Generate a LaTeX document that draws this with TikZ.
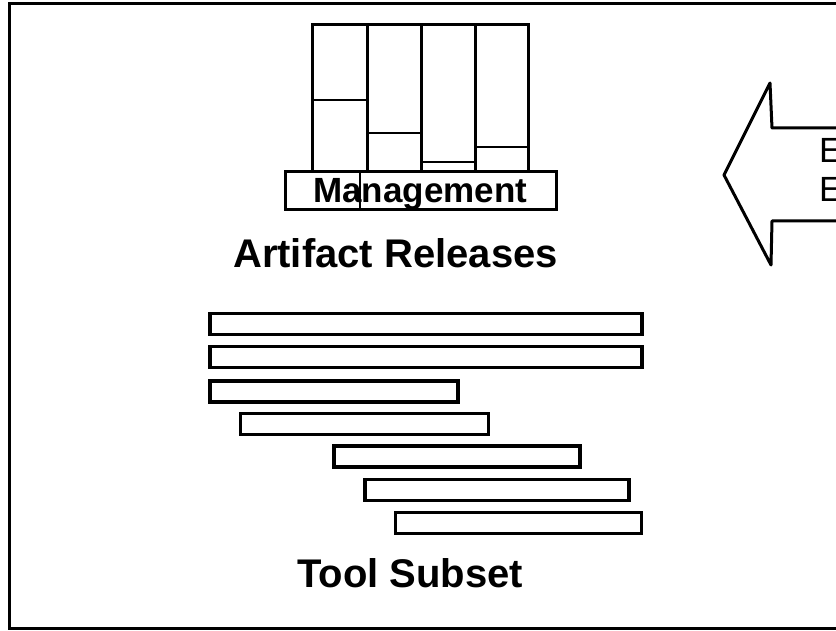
\documentclass[tikz,border=0pt]{standalone}
\usepackage{fontspec}
\setmainfont{Liberation Sans}
\begin{document}
\begin{tikzpicture}[x=1pt,y=-1pt,
  frameline/.style={line width=3pt},
  bar/.style={draw, line width=3.5pt, inner sep=0pt, minimum height=21pt},
  colbox/.style={draw, line width=3pt},
  fill line/.style={line width=1.6pt},
  biglabel/.style={font=\bfseries\fontsize{40}{48}\selectfont, anchor=base west, inner sep=0pt},
  mlabel/.style={font=\bfseries\fontsize{35}{42}\selectfont, anchor=base west, inner sep=0pt},
  elabel/.style={font=\fontsize{35}{42}\selectfont, anchor=base west, inner sep=0pt}]
\useasboundingbox (0,0) rectangle (836,631);
\clip (0,0) rectangle (836,631);
% outer frame (open to the right)
\draw[frameline] (860,4) -- (9,4) -- (9,628) -- (860,628);

% artifact columns
\draw[colbox] (312,25) rectangle (367,172);
\draw[colbox] (367,25) rectangle (421,172);
\draw[colbox] (421,25) rectangle (475,172);
\draw[colbox] (475,25) rectangle (528,172);
\draw[fill line] (312,100) -- (367,100);
\draw[fill line] (367,133) -- (421,133);
\draw[fill line] (421,162) -- (475,162);
\draw[fill line] (475,147) -- (528,147);

% management box
\node[draw, fill=white, line width=3pt, inner sep=0pt, minimum width=271pt, minimum height=38pt] (mgmtbox) at (420.5,191) {};
\draw[line width=1.6pt] (360,172) -- (360,210);
\node[mlabel] (mgmt) at (313,203) {Management};

\node[biglabel] (artifact) at (233,268) {Artifact Releases};

% tool bars
\node[bar, minimum width=432pt] (b1) at (426,324) {};
\node[bar, minimum width=432pt] (b2) at (426,357) {};
\node[bar, minimum width=248pt] (b3) at (334,391.5) {};
\node[bar, minimum width=248pt] (b4) at (364.7,424) {};
\node[bar, minimum width=246pt] (b5) at (457,456.5) {};
\node[bar, minimum width=264pt] (b6) at (497,490) {};
\node[bar, minimum width=246pt] (b7) at (518.7,523) {};

\node[biglabel] (tool) at (297,587) {Tool Subset};

% big arrow
\coordinate (tip) at (724,175);
\coordinate (ht) at (770,83);
\coordinate (st) at (772,128);
\coordinate (sb) at (772,221);
\coordinate (hb) at (771,265);
\draw[line width=3pt, line join=round] (860,128) -- (st) -- (ht) -- (tip) -- (hb) -- (sb) -- (860,221);
\node[elabel] (e1) at (819,163) {E};
\node[elabel] (e2) at (819,202) {E};
\end{tikzpicture}
\end{document}
